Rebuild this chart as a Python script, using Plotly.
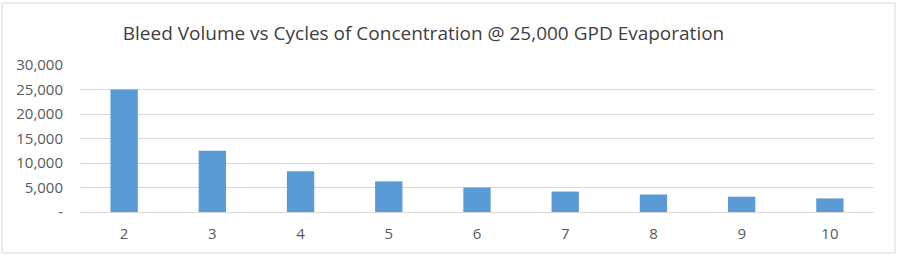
import plotly.graph_objects as go

cycles = ["2", "3", "4", "5", "6", "7", "8", "9", "10"]
bleed = [25000, 12500, 8333, 6250, 5000, 4167, 3571, 3125, 2778]
y_tickvals = [0, 5000, 10000, 15000, 20000, 25000, 30000]
y_ticktext = ["-", "5,000", "10,000", "15,000", "20,000", "25,000", "30,000"]
title = "Bleed Volume vs Cycles of Concentration @ 25,000 GPD Evaporation"

fig = go.Figure(go.Bar(x=cycles, y=bleed, marker=dict(color="#5b9bd5", line=dict(width=0)),
                       width=0.31))

font = "Open Sans, Segoe UI, sans-serif"
fig.update_layout(
    width=900, height=260,
    margin=dict(l=80, r=26, t=65, b=48),
    paper_bgcolor="white", plot_bgcolor="white",
    showlegend=False,
    title=dict(text=title, x=423.5 / 900, xanchor="center", y=1 - 33 / 260, yanchor="middle",
               font=dict(family=font, size=19, color="#404040")),
    font=dict(family=font, size=12, color="#595959"),
)
fig.update_xaxes(type="category", showgrid=False, showline=True, linecolor="#d9d9d9", linewidth=1,
                 ticks="", ticklabelstandoff=8, tickfont=dict(size=15, color="#595959"))
fig.update_yaxes(range=[0, 30000], tickvals=y_tickvals, ticktext=y_ticktext,
                 showgrid=True, gridcolor="#d9d9d9", gridwidth=1, zeroline=False,
                 showline=False, ticks="", ticklabelstandoff=16,
                 tickfont=dict(size=15, color="#595959"))
fig.add_shape(type="rect", xref="paper", yref="paper",
              x0=-78 / 794, x1=(895 - 80) / 794, y0=-(253 - 212) / 147, y1=(212 - 3) / 147,
              line=dict(color="#d9d9d9", width=1), fillcolor="rgba(0,0,0,0)", layer="below")

fig.write_html("out.html")
